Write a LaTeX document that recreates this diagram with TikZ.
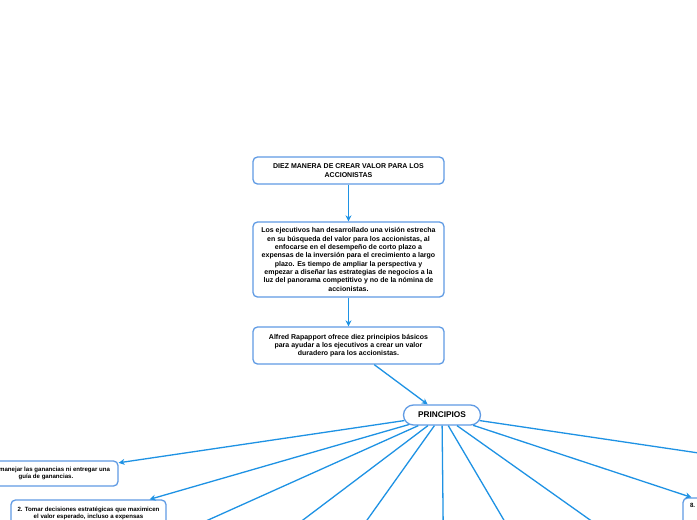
\documentclass[tikz,border=0pt]{standalone}
\usepackage{fontspec}
\setmainfont{Liberation Sans}
\usetikzlibrary{arrows.meta,shapes.misc}
\definecolor{boxblue}{RGB}{96,155,228}
\definecolor{linkblue}{RGB}{30,146,228}
\tikzset{
  box/.style={draw=boxblue, line width=1.3pt, rounded corners=4.5pt, fill=white,
    align=center, inner sep=2pt, font=\bfseries\fontsize{7}{8.3}\selectfont},
  smallbox/.style={box, font=\bfseries\fontsize{6.1}{6.9}\selectfont},
  pill/.style={draw=boxblue, line width=1.3pt, rounded rectangle, fill=white,
    minimum width=81pt, minimum height=20pt, inner xsep=2pt, font=\bfseries\fontsize{8.3}{9}\selectfont},
  link/.style={draw=linkblue, line width=1.3pt, -{Stealth[length=6pt,width=6pt]}},
}
\begin{document}
\begin{tikzpicture}[x=1pt,y=-1pt]
\path[use as bounding box, clip] (0,0) rectangle (697,520);
\fill[white] (0,0) rectangle (697,520);

\node[box, minimum width=191pt, minimum height=27pt] (title) at (348.5,170.5)
  {\fontsize{7}{9}\selectfont DIEZ MANERA DE CREAR VALOR PARA LOS\\ACCIONISTAS};
\node[box, minimum width=191pt, minimum height=75pt] (intro) at (348.5,259.5)
  {Los ejecutivos han desarrollado una visión estrecha\\
   en su búsqueda del valor para los accionistas, al\\
   enfocarse en el desempeño de corto plazo a\\
   expensas de la inversión para el crecimiento a largo\\
   plazo. Es tiempo de ampliar la perspectiva y\\
   empezar a diseñar las estrategias de negocios a la\\
   luz del panorama competitivo y no de la nómina de\\
   accionistas.};
\node[box, minimum width=191pt, minimum height=37pt] (rap) at (348.5,345.5)
  {Alfred Rapapport ofrece diez principios básicos\\
   para ayudar a los ejecutivos a crear un valor\\
   duradero para los accionistas.};
\node[pill] (prin) at (442,415) {PRINCIPIOS};

\node[smallbox, minimum width=144pt, minimum height=25pt] (p1) at (46,473.5)
  {1. No manejar las ganancias ni entregar una\\guía de ganancias.};
\node[smallbox, minimum width=155pt, minimum height=34pt] (p2) at (88.5,517)
  {2. Tomar decisiones estratégicas que maximicen\\el valor esperado, incluso a expensas\\\strut};
\node[smallbox, minimum width=154pt, minimum height=44pt, text width=140pt, align=left] (p8) at (760,520)
  {8.\\\strut\\\strut\\\strut\\\strut};

\coordinate (p3) at (30,600);
\coordinate (p4) at (197,600);
\coordinate (p5) at (310,600);
\coordinate (p6) at (444,600);
\coordinate (p7) at (551,600);
\coordinate (p9) at (703,600);
\coordinate (p10) at (800,468);

\draw[link] (title) -- (intro);
\draw[link] (intro) -- (rap);
\draw[link] (rap) -- (prin);
\foreach \t in {p1,p2,p3,p4,p5,p6,p7,p8,p9,p10}
  \draw[link] (prin) -- (\t);
\end{tikzpicture}
\end{document}
